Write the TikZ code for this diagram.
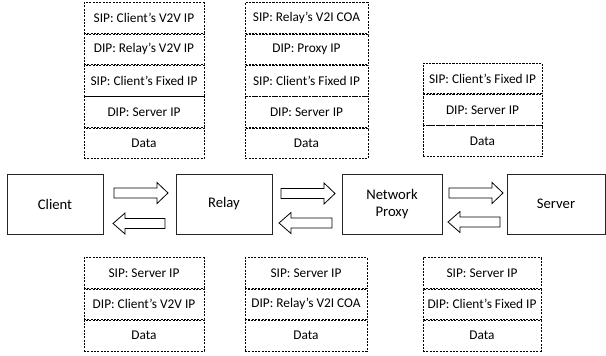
\documentclass[tikz,border=0pt]{standalone}
\usepackage{fontspec}
\setmainfont{Carlito}
\usetikzlibrary{positioning}

\begin{document}
\begin{tikzpicture}[x=0.75pt,y=-0.75pt,
    field/.style={rectangle,draw=black,line width=0.5pt,dash pattern=on 1.6pt off 0.9pt,minimum width=90pt,minimum height=23pt,inner sep=0pt,font=\fontsize{10}{12}\selectfont},
    box/.style={rectangle,draw=black!85,line width=0.6pt,minimum height=45pt,inner sep=0pt,font=\fontsize{11}{13}\selectfont,align=center},
    flow/.style={draw=black,line width=0.6pt,fill=white}]
    \useasboundingbox (0,0) rectangle (606,356);

    % main boxes
    \node[box,minimum width=72pt] (client) at (55,204) {Client};
    \node[box,minimum width=72pt] (relay) at (224,204) {Relay};
    \node[box,minimum width=75pt] (proxy) at (392,204) {Network\\Proxy};
    \node[box,minimum width=73.5pt] (server) at (556,204) {Server};

    % block arrows, forward
    \foreach \xa/\xb/\yc in {114/168/193, 281/335/193.5, 449/503/193}
        \draw[flow] (\xa,\yc-5) -- (\xb-11,\yc-5) -- (\xb-11,\yc-10.5) -- (\xb,\yc)
            -- (\xb-11,\yc+10.5) -- (\xb-11,\yc+5) -- (\xa,\yc+5) -- cycle;
    % block arrows, backward
    \foreach \xa/\xb/\yc in {165/113/223.5, 332/279/223, 500/448/222}
        \draw[flow] (\xa,\yc-5) -- (\xb+12,\yc-5) -- (\xb+12,\yc-10.5) -- (\xb,\yc)
            -- (\xb+12,\yc+10.5) -- (\xb+12,\yc+5) -- (\xa,\yc+5) -- cycle;

    % client -> relay
    \node[field] (a1) at (144,18) {SIP: Client’s V2V IP};
    \node[field,below=0pt of a1] (a2) {DIP: Relay’s V2V IP};
    \node[field,below=0pt of a2] (a3) {SIP: Client’s Fixed IP};
    \node[field,below=0pt of a3] (a4) {DIP: Server IP};
    \node[field,below=0pt of a4] (a5) {Data};

    % relay -> proxy
    \node[field,minimum width=92pt] (b1) at (306.5,18) {SIP: Relay’s V2I COA};
    \node[field,minimum width=92pt,below=0pt of b1] (b2) {DIP: Proxy IP};
    \node[field,minimum width=92pt,below=0pt of b2] (b3) {SIP: Client’s Fixed IP};
    \node[field,minimum width=92pt,below=0pt of b3] (b4) {DIP: Server IP};
    \node[field,minimum width=92pt,below=0pt of b4] (b5) {Data};

    % proxy -> server
    \node[field,minimum width=89pt] (c1) at (482.5,78.5) {SIP: Client’s Fixed IP};
    \node[field,minimum width=89pt,below=0pt of c1] (c2) {DIP: Server IP};
    \node[field,minimum width=89pt,below=0pt of c2] (c3) {Data};

    % server -> proxy -> relay -> client
    \node[field] (d1) at (144,273) {SIP: Server IP};
    \node[field,below=0pt of d1] (d2) {DIP: Client’s V2V IP};
    \node[field,below=0pt of d2] (d3) {Data};

    \node[field,minimum width=91.5pt] (e1) at (306,273) {SIP: Server IP};
    \node[field,minimum width=91.5pt,below=0pt of e1] (e2) {DIP: Relay’s V2I COA};
    \node[field,minimum width=91.5pt,below=0pt of e2] (e3) {Data};

    \node[field,minimum width=88.5pt] (f1) at (482,273) {SIP: Server IP};
    \node[field,minimum width=88.5pt,below=0pt of f1] (f2) {DIP: Client’s Fixed IP};
    \node[field,minimum width=88.5pt,below=0pt of f2] (f3) {Data};
\end{tikzpicture}
\end{document}
